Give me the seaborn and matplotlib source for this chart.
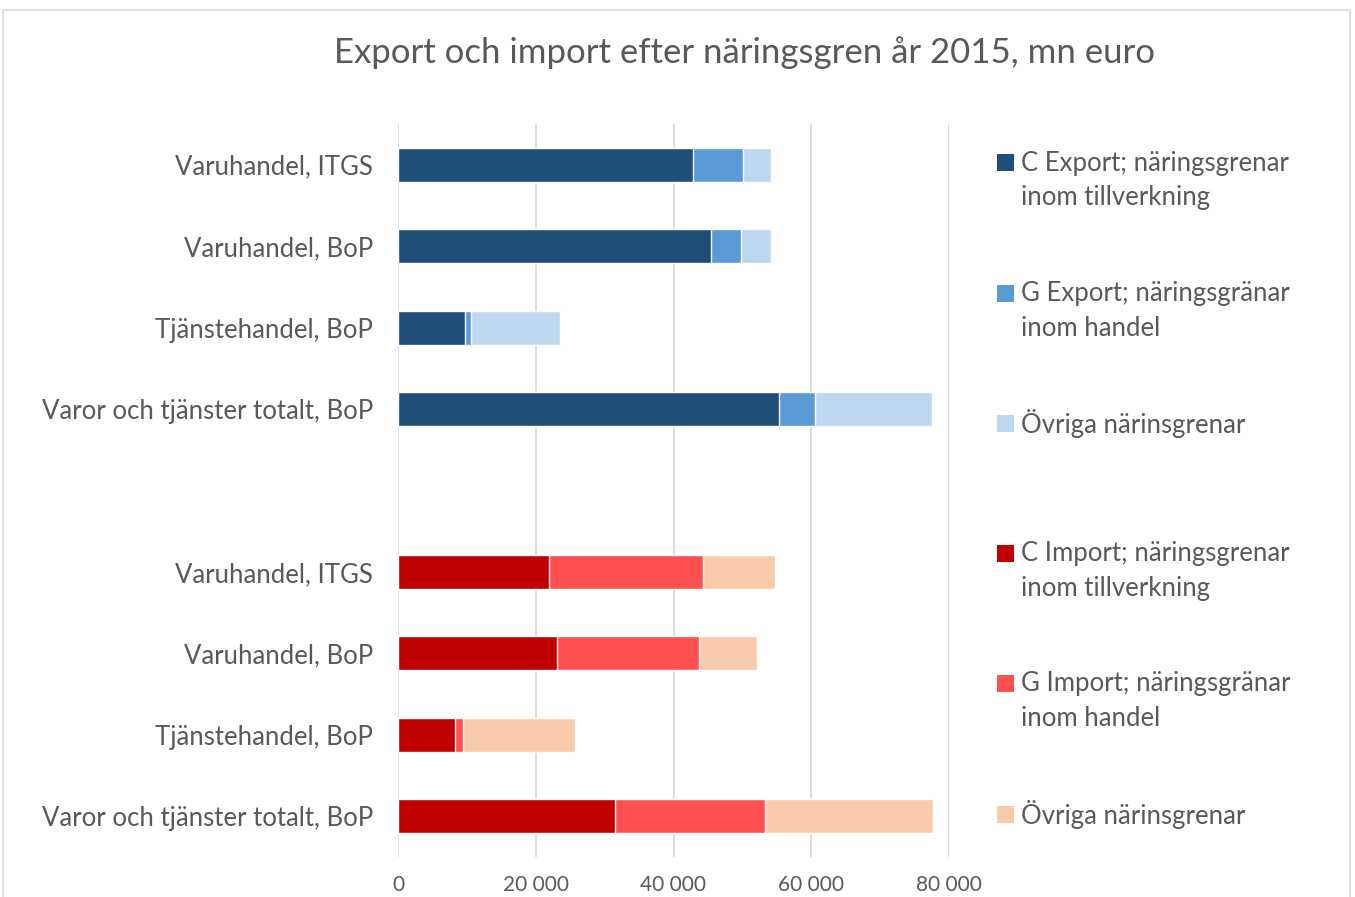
import matplotlib
matplotlib.use("Agg")
import matplotlib.pyplot as plt
import numpy as np
import pandas as pd
import seaborn as sns
from matplotlib.patches import Rectangle

TITLE = "Export och import efter näringsgren år 2015, mn euro"
ROW_LABELS = ["Varuhandel, ITGS", "Varuhandel, BoP", "Tjänstehandel, BoP", "Varor och tjänster totalt, BoP"]

# mn euro
export_c = [42800, 45400, 9700, 55300]
export_g = [7300, 4400, 900, 5200]
export_other = [4000, 4400, 12900, 17100]
import_c = [21900, 23100, 8300, 31500]
import_g = [22400, 20600, 1150, 21800]
import_other = [10400, 8400, 16250, 24400]

X_TICKS = [0, 20000, 40000, 60000, 80000]

LEGEND_LABELS = [
    "C Export; näringsgrenar\ninom tillverkning",
    "G Export; näringsgränar\ninom handel",
    "Övriga närinsgrenar",
    "C Import; näringsgrenar\ninom tillverkning",
    "G Import; näringsgränar\ninom handel",
    "Övriga närinsgrenar",
]
EXPORT_COLORS = ["#1F4E79", "#5B9BD5", "#BDD7EE"]
IMPORT_COLORS = ["#C00000", "#FF5050", "#F8CBAD"]
TEXT_COLOR = "#595959"

W, H = 1355, 897

sns.set_style("white")
plt.rcParams["font.family"] = ["Lato", "DejaVu Sans"]

export_keys = [f"E {r}" for r in ROW_LABELS]
import_keys = [f"I {r}" for r in ROW_LABELS]
order = export_keys + ["gap"] + import_keys

rows = []
for keys, flow, c, g, o in [
    (export_keys, "Export", export_c, export_g, export_other),
    (import_keys, "Import", import_c, import_g, import_other),
]:
    for k, cv, gv, ov in zip(keys, c, g, o):
        rows.append({"row": k, "flow": flow, "c": cv, "cg": cv + gv, "total": cv + gv + ov})
df = pd.DataFrame(rows)

fig = plt.figure(figsize=(W / 100, H / 100), dpi=100)
ax = fig.add_axes([398 / W, 1 - 857 / H, (949 - 398) / W, (857 - 124) / H])

# stacked bars drawn as cumulative layers, largest first
for col, idx in [("total", 2), ("cg", 1), ("c", 0)]:
    sns.barplot(
        data=df, x=col, y="row", hue="flow", order=order, hue_order=["Export", "Import"],
        palette={"Export": EXPORT_COLORS[idx], "Import": IMPORT_COLORS[idx]},
        dodge=False, width=0.42, orient="h", legend=False, ax=ax, saturation=1,
    )

ax.set_xlim(0, 80000)
ax.set_ylim(8.5, -0.5)
ax.set_xticks(X_TICKS)
ax.set_xticklabels([f"{t:,}".replace(",", " ") for t in X_TICKS], color=TEXT_COLOR, fontsize=15)
ax.set_yticks(range(len(order)))
ax.set_yticklabels(ROW_LABELS + [""] + ROW_LABELS, color=TEXT_COLOR, fontsize=18.5)
ax.tick_params(axis="both", length=0)
ax.tick_params(axis="y", pad=18)
ax.tick_params(axis="x", pad=13)
ax.set_xlabel("")
ax.set_ylabel("")
ax.xaxis.grid(True, color="#d9d9d9", linewidth=1.3)
ax.set_axisbelow(True)
sns.despine(ax=ax, left=True, bottom=True)

fig.text(744 / W, 1 - 53 / H, TITLE, ha="center", va="center", fontsize=25, color=TEXT_COLOR)

# legend, evenly spread over the rows
legend_colors = EXPORT_COLORS + IMPORT_COLORS
legend_y = np.linspace(163, 814, len(LEGEND_LABELS))
for label, color, y in zip(LEGEND_LABELS, legend_colors, legend_y):
    fig.patches.append(Rectangle((997 / W, 1 - (y + 8.5) / H), 17 / W, 17 / H,
                                 transform=fig.transFigure, facecolor=color, edgecolor="none"))
    for j, line in enumerate(label.split("\n")):
        fig.text(1021 / W, 1 - (y + 35 * j) / H, line, ha="left", va="center",
                 fontsize=18.5, color=TEXT_COLOR)

# light frame round the chart
fig.patches.append(Rectangle((3 / W, -0.01), (1350 - 3) / W, 1.01 - 10 / H,
                             transform=fig.transFigure, fill=False, edgecolor="#d9d9d9", linewidth=1.2))

fig.savefig("out.png", dpi=100)
plt.close(fig)
